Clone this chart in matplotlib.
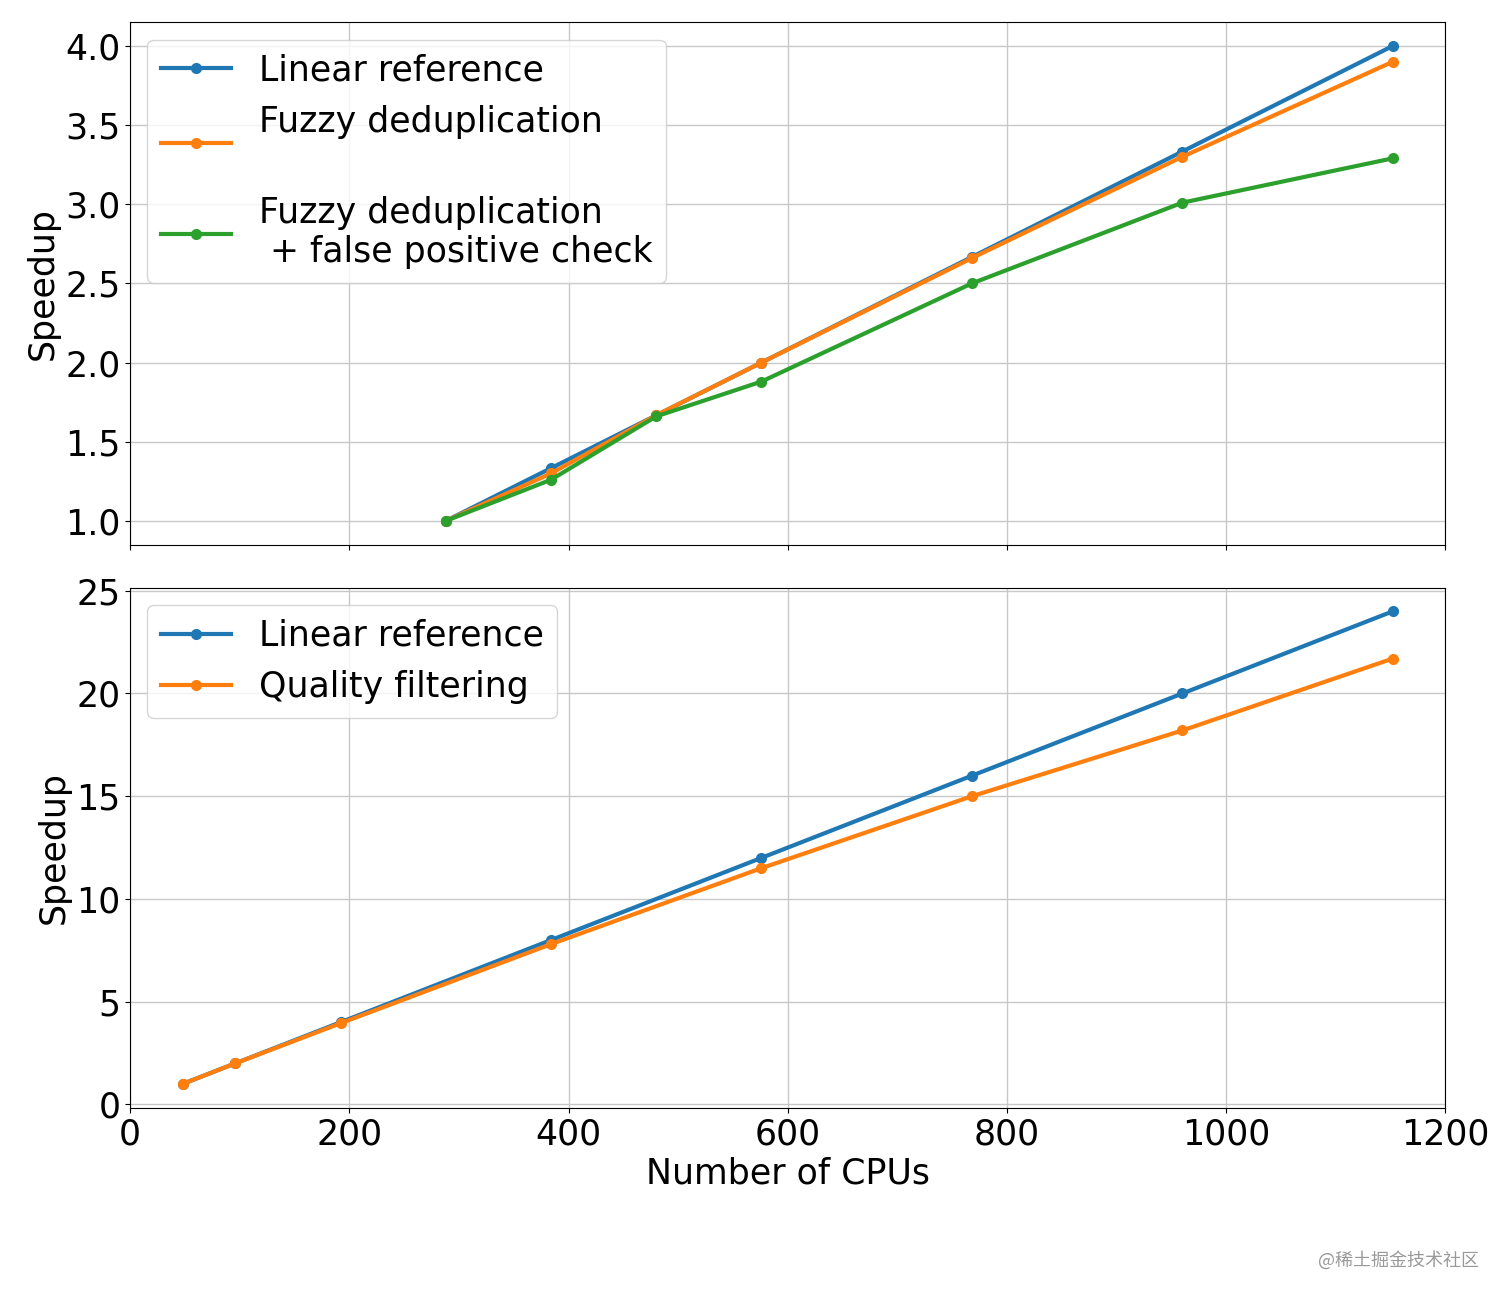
import matplotlib
matplotlib.use('Agg')
import matplotlib.pyplot as plt

# top panel: fuzzy deduplication
cpus_dedup = [288, 384, 480, 576, 768, 960, 1152]
linear_dedup = [1.0, 1.333, 1.667, 2.0, 2.667, 3.333, 4.0]
fuzzy_dedup = [1.0, 1.30, 1.667, 2.0, 2.66, 3.30, 3.90]
fuzzy_fp = [1.0, 1.26, 1.66, 1.88, 2.50, 3.01, 3.29]

# bottom panel: quality filtering
cpus_qf = [48, 96, 192, 384, 576, 768, 960, 1152]
linear_qf = [1, 2, 4, 8, 12, 16, 20, 24]
quality_qf = [1.0, 2.0, 3.95, 7.8, 11.5, 15.0, 18.2, 21.7]

matplotlib.rcParams.update({'font.size': 25})

fig = plt.figure(figsize=(15.12, 13.03), dpi=100)
ax1 = fig.add_axes([0.086, 0.582, 0.870, 0.401])
ax2 = fig.add_axes([0.086, 0.150, 0.870, 0.399], sharex=ax1)

kw = dict(marker='o', lw=3, ms=7)
ax1.plot(cpus_dedup, linear_dedup, color='C0', label='Linear reference', **kw)
ax1.plot(cpus_dedup, fuzzy_dedup, color='C1', label='Fuzzy deduplication\n', **kw)
ax1.plot(cpus_dedup, fuzzy_fp, color='C2',
         label='Fuzzy deduplication\n + false positive check', **kw)
ax1.set_ylabel('Speedup')
ax1.grid(True, lw=1.0, color='#c8c8c8')
ax1.legend(loc='upper left')
plt.setp(ax1.get_xticklabels(), visible=False)

ax2.plot(cpus_qf, linear_qf, color='C0', label='Linear reference', **kw)
ax2.plot(cpus_qf, quality_qf, color='C1', label='Quality filtering', **kw)
ax2.set_ylabel('Speedup')
ax2.set_xlabel('Number of CPUs')
ax2.grid(True, lw=1.0, color='#c8c8c8')
ax2.legend(loc='upper left')
ax2.set_xlim(0, 1200)

fig.text(0.978, 0.033, '@稀土掘金技术社区', ha='right', va='center', fontsize=13,
         color='#999999', family=['Noto Sans CJK SC', 'DejaVu Sans'])

fig.savefig('out.png', dpi=100)
